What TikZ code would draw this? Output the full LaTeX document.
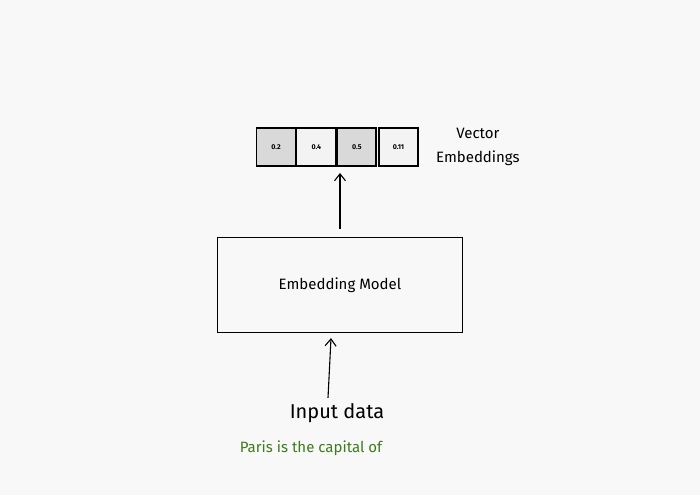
\documentclass[tikz,border=0pt]{standalone}
\usepackage{fontspec}
\setmainfont{Fira Sans}
\usetikzlibrary{arrows.meta, positioning}
\definecolor{canvasgray}{RGB}{248,248,248}
\definecolor{cellgray}{RGB}{217,217,217}
\definecolor{celllight}{RGB}{243,243,243}
\definecolor{inputgreen}{RGB}{62,122,30}

\begin{document}
\begin{tikzpicture}[
    x=1pt, y=-1pt,
    cell/.style={rectangle, draw, line width=1.3pt, minimum width=39pt, minimum height=38pt, inner sep=0pt, font=\fontsize{7}{8}\selectfont\bfseries},
    model/.style={rectangle, draw, line width=1.2pt, minimum width=245pt, minimum height=95pt, font=\fontsize{15}{17}\selectfont},
    arrow/.style={-{Straight Barb[length=7pt, width=11pt]}, line width=1.1pt}
]
\fill[canvasgray] (0,0) rectangle (700,495);
\useasboundingbox (0,0) rectangle (700,495);

% Embedding model
\node[model] (model) at (340,285) {Embedding Model};

% Vector cells
\node[cell, fill=cellgray] (c1) at (276,147) {0.2};
\node[cell, fill=celllight, right=0pt of c1] (c2) {0.4};
\node[cell, fill=cellgray, line width=1.9pt, right=0pt of c2] (c3) {0.5};
\node[cell, fill=celllight, right=1pt of c3] (c4) {0.11};
\node[right=14pt of c4, align=center, font=\fontsize{15}{24}\selectfont] (vlabel) {Vector\\Embeddings};

% Input
\node[font=\fontsize{20}{22}\selectfont] (input) at (337,413) {Input data};
\node[below=11pt of input, xshift=-26pt, text=inputgreen, font=\fontsize{15}{17}\selectfont] (sentence) {Paris is the capital of};

% Arrows
\draw[arrow] ([xshift=-9pt, yshift=2pt]input.north) -- ([xshift=-9pt, yshift=-5pt]model.south);
\draw[arrow] ([yshift=8pt]model.north) -- ([yshift=-6pt]c3.south -| model.north);

\end{tikzpicture}
\end{document}
